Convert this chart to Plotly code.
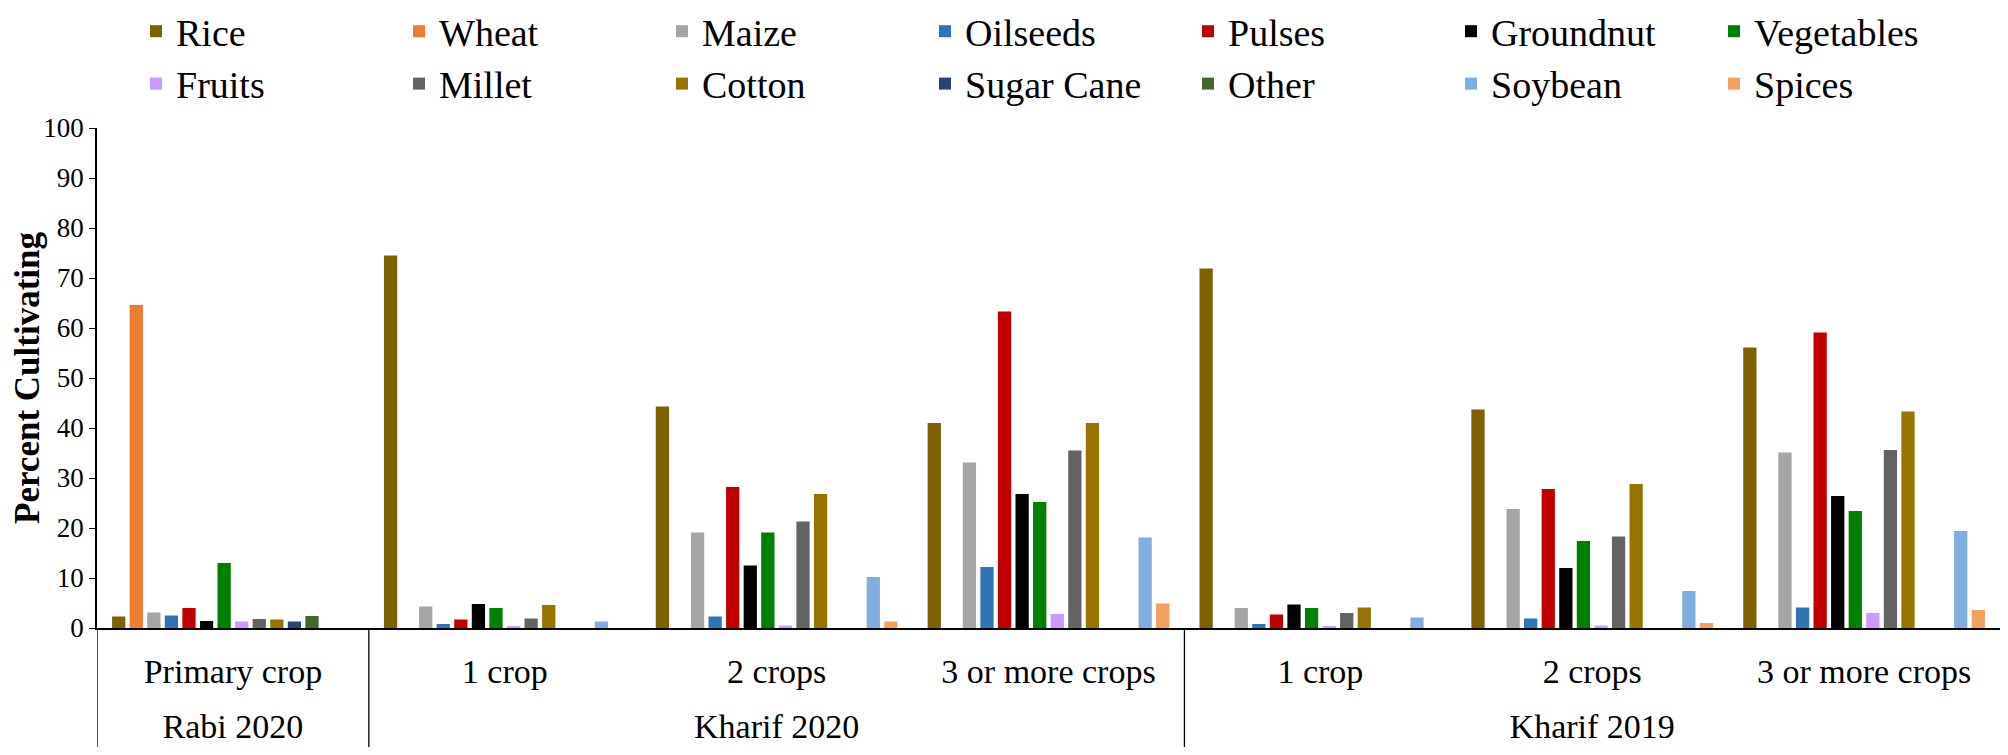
import plotly.graph_objects as go

# x axis: season (outer level) and number of crops (inner level)
seasons = ["Rabi 2020", "Kharif 2020", "Kharif 2020", "Kharif 2020",
           "Kharif 2019", "Kharif 2019", "Kharif 2019"]
crop_counts = ["Primary crop", "1 crop", "2 crops", "3 or more crops",
               "1 crop", "2 crops", "3 or more crops"]

# percent of households cultivating each crop
rice = [2.3, 74.5, 44.3, 41.0, 71.9, 43.7, 56.1]
wheat = [64.6, 0, 0, 0, 0, 0, 0]
maize = [3.1, 4.3, 19.1, 33.1, 4.0, 23.8, 35.1]
oilseeds = [2.5, 0.8, 2.3, 12.2, 0.8, 1.9, 4.1]
pulses = [4.0, 1.7, 28.2, 63.3, 2.7, 27.8, 59.1]
groundnut = [1.4, 4.8, 12.5, 26.8, 4.7, 12.0, 26.4]
vegetables = [13.0, 4.0, 19.1, 25.2, 4.0, 17.4, 23.4]
fruits = [1.3, 0.3, 0.5, 2.8, 0.3, 0.5, 3.0]
millet = [1.8, 1.9, 21.3, 35.5, 3.0, 18.3, 35.6]
cotton = [1.7, 4.6, 26.8, 41.0, 4.1, 28.8, 43.3]
sugar_cane = [1.3, 0, 0, 0, 0, 0, 0]
other = [2.4, 0, 0, 0, 0, 0, 0]
soybean = [0, 1.3, 10.2, 18.1, 2.1, 7.4, 19.4]
spices = [0, 0, 1.3, 4.9, 0, 1.0, 3.6]

series = [
    ("Rice", rice, "#7F6000"),
    ("Wheat", wheat, "#ED7D31"),
    ("Maize", maize, "#A5A5A5"),
    ("Oilseeds", oilseeds, "#2E75B6"),
    ("Pulses", pulses, "#C00000"),
    ("Groundnut", groundnut, "#000000"),
    ("Vegetables", vegetables, "#008000"),
    ("Fruits", fruits, "#CC99FF"),
    ("Millet", millet, "#636363"),
    ("Cotton", cotton, "#997300"),
    ("Sugar Cane", sugar_cane, "#264478"),
    ("Other", other, "#43682B"),
    ("Soybean", soybean, "#7EAFE0"),
    ("Spices", spices, "#F4A05E"),
]

serif = "Liberation Serif"

# one unique key per bar group, so repeated inner labels stay separate
x_keys = [s + " | " + c for s, c in zip(seasons, crop_counts)]

# season spans (index ranges) for the outer label row and the dividers
season_names = []
season_idx = {}
for i, s in enumerate(seasons):
    if s not in season_idx:
        season_names.append(s)
        season_idx[s] = []
    season_idx[s].append(i)
season_centers = [sum(season_idx[s]) / len(season_idx[s]) for s in season_names]
season_starts = [min(season_idx[s]) - 0.5 for s in season_names]

fig = go.Figure()
for name, values, color in series:
    fig.add_trace(go.Bar(
        x=x_keys,
        y=values,
        name=name,
        marker=dict(color=color, line=dict(width=0)),
    ))

# vertical dividers between the seasons, running down through the label rows
for x0 in season_starts:
    fig.add_shape(type="line", xref="x2", yref="paper",
                  x0=x0, x1=x0, y0=0, y1=-0.24,
                  line=dict(color="black", width=1.3))

# page body has an 8px margin, so the figure is sized to fit inside it
fig.update_layout(
    width=1992,
    height=739,
    barmode="group",
    bargap=0.095,
    bargroupgap=0.245,
    plot_bgcolor="white",
    paper_bgcolor="white",
    font=dict(family=serif, color="black"),
    margin=dict(l=89, r=0, t=120, b=119, autoexpand=False),
    showlegend=True,
    legend=dict(
        orientation="h",
        x=0.0205,
        xanchor="left",
        y=1.256,
        yanchor="top",
        entrywidth=218,
        entrywidthmode="pixels",
        font=dict(family=serif, size=38),
        traceorder="normal",
    ),
    xaxis=dict(
        type="category",
        categoryorder="array",
        categoryarray=x_keys,
        range=[-0.5, len(x_keys) - 0.5],
        tickmode="array",
        tickvals=x_keys,
        ticktext=crop_counts,
        showgrid=False,
        showline=True,
        linecolor="black",
        linewidth=1.5,
        ticks="",
        ticklabelstandoff=12,
        tickfont=dict(family=serif, size=34),
    ),
    xaxis2=dict(
        overlaying="x",
        anchor="y",
        side="bottom",
        range=[-0.5, len(x_keys) - 0.5],
        tickmode="array",
        tickvals=season_centers,
        ticktext=season_names,
        showgrid=False,
        showline=False,
        zeroline=False,
        ticks="",
        ticklabelstandoff=75,
        tickfont=dict(family=serif, size=34),
    ),
    yaxis=dict(
        range=[0, 100],
        dtick=10,
        showgrid=False,
        showline=True,
        linecolor="black",
        linewidth=1.5,
        ticks="outside",
        ticklen=6,
        tickcolor="black",
        tickfont=dict(family=serif, size=27),
        title=dict(text="<b>Percent Cultivating</b>",
                   font=dict(family=serif, size=35), standoff=10),
        zeroline=False,
    ),
)

fig.write_html("out.html")
